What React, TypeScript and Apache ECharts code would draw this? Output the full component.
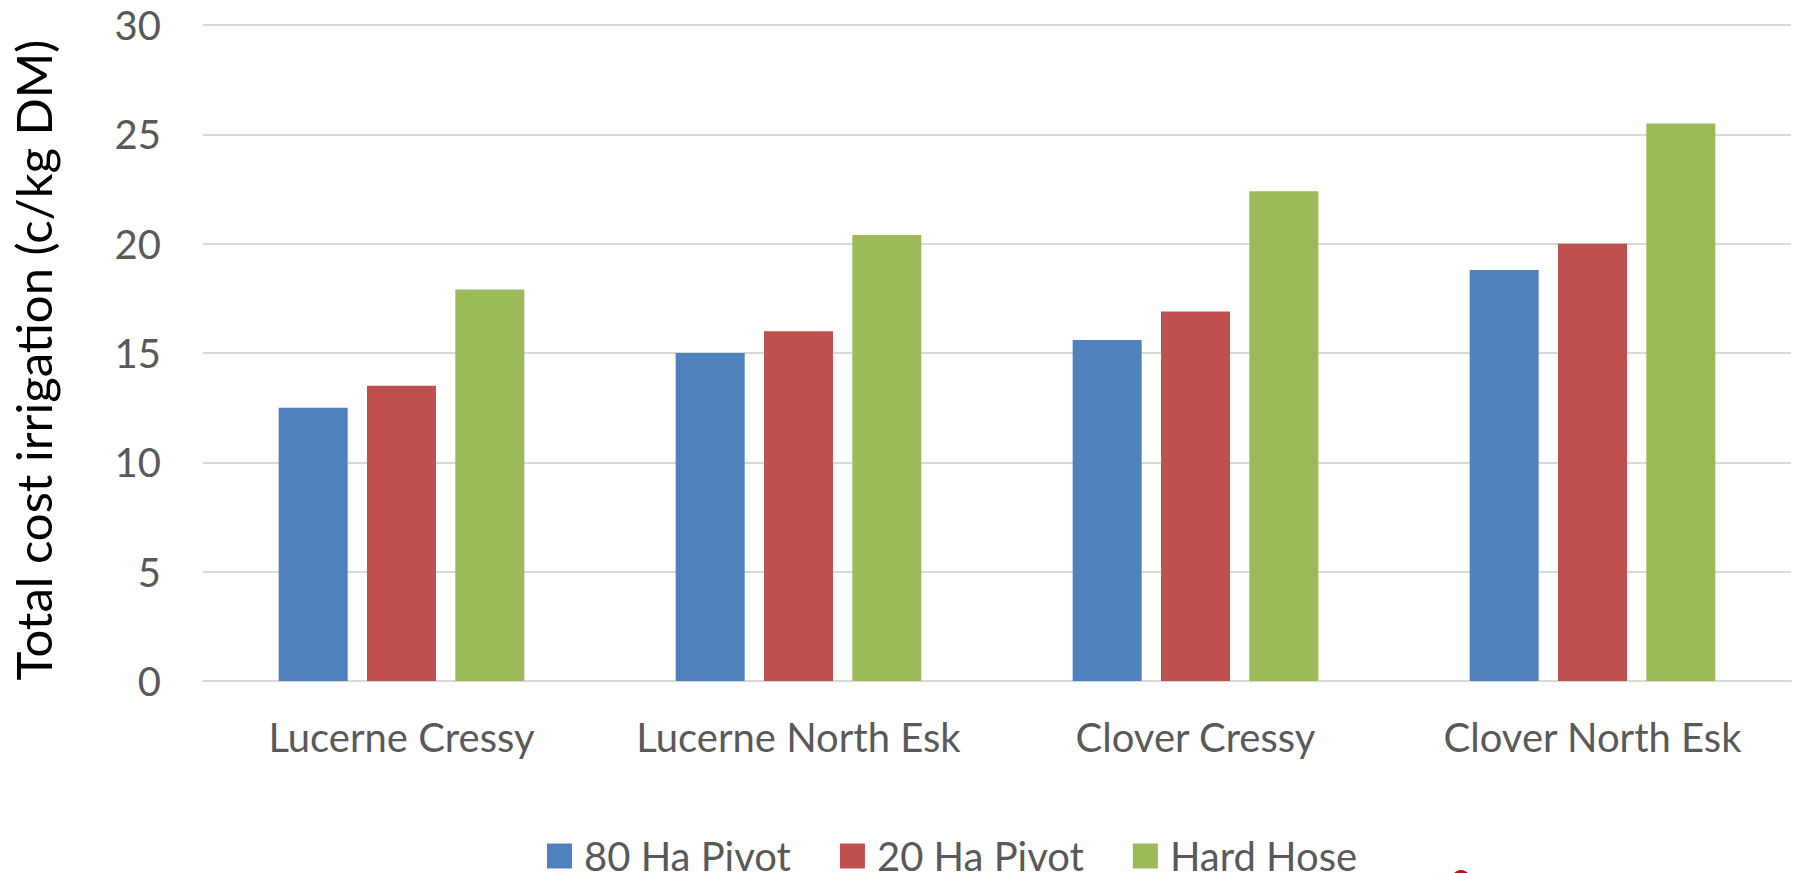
import React, { useEffect, useRef } from "react";
import * as echarts from "echarts";

const categories = ["Lucerne Cressy", "Lucerne North Esk", "Clover Cressy", "Clover North Esk"];
const seriesNames = ["80 Ha Pivot", "20 Ha Pivot", "Hard Hose"];
const pivot80 = [12.5, 15.0, 15.6, 18.8];
const pivot20 = [13.5, 16.0, 16.9, 20.0];
const hardHose = [17.9, 20.4, 22.4, 25.5];
const colors = ["#4f81bd", "#c0504d", "#9bbb59"];
const yTitle = "Total cost irrigation (c/kg DM)";

export default function App() {
  const ref = useRef<HTMLDivElement>(null);
  useEffect(() => {
    if (!ref.current) return;
    const chart = echarts.init(ref.current, undefined, { renderer: "svg" });
    const font = "Lato, 'Open Sans', sans-serif";
    const values = [pivot80, pivot20, hardHose];
    chart.setOption({
      animation: false,
      backgroundColor: "#ffffff",
      grid: { left: 203, right: 7, top: 25, bottom: 192, containLabel: false },
      xAxis: {
        type: "category",
        data: categories,
        axisTick: { show: false },
        axisLine: { lineStyle: { color: "#d9d9d9", width: 2 } },
        axisLabel: { interval: 0, fontSize: 40, color: "#595959", fontFamily: font, margin: 36 },
      },
      yAxis: {
        type: "value",
        min: 0,
        max: 30,
        interval: 5,
        axisLine: { show: false },
        axisTick: { show: false },
        splitLine: { lineStyle: { color: "#d9d9d9", width: 2 } },
        axisLabel: { fontSize: 40, color: "#595959", fontFamily: font, margin: 42 },
      },
      legend: {
        data: seriesNames,
        left: 547,
        top: 836,
        icon: "rect",
        itemWidth: 25,
        itemHeight: 25,
        itemGap: 49,
        padding: 0,
        textStyle: {
          fontSize: 40,
          lineHeight: 36,
          color: "#595959",
          fontFamily: font,
          padding: [0, 0, 0, 7],
        },
      },
      series: seriesNames.map((name, i) => ({
        name,
        type: "bar",
        data: values[i],
        barWidth: 69,
        barGap: "28%",
        itemStyle: { color: colors[i] },
      })),
      graphic: [
        {
          type: "text",
          x: 33,
          y: 360,
          rotation: Math.PI / 2,
          style: {
            text: yTitle,
            fontSize: 49,
            fontFamily: font,
            fill: "#000000",
            align: "center",
            verticalAlign: "middle",
          },
        },
        {
          type: "circle",
          shape: { cx: 1461, cy: 879, r: 9 },
          style: { fill: "#b5141b" },
        },
      ],
    });
    return () => chart.dispose();
  }, []);
  return (
    <div
      ref={ref}
      style={{ position: "absolute", left: 0, top: 0, width: 1798, height: 873 }}
    />
  );
}
